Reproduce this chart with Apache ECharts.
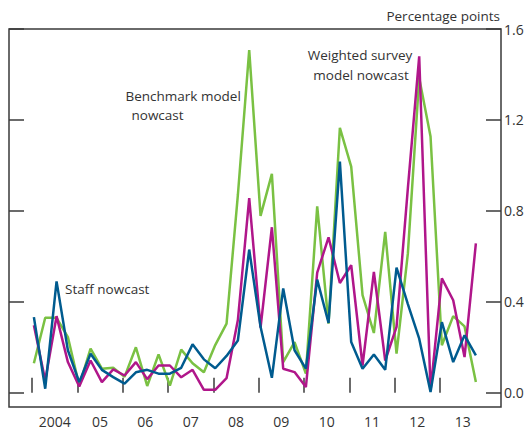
<!DOCTYPE html>
<html><head><meta charset="utf-8">
<script src="https://cdn.jsdelivr.net/npm/echarts@6/dist/echarts.min.js"></script>
<style>html,body{margin:0;padding:0;background:#fff}#c{width:532px;height:432px}</style>
</head><body><div id="c"></div>
<script>
const quarters = [
  '2004 Q1','2004 Q2','2004 Q3','2004 Q4','2005 Q1','2005 Q2','2005 Q3','2005 Q4',
  '2006 Q1','2006 Q2','2006 Q3','2006 Q4','2007 Q1','2007 Q2','2007 Q3','2007 Q4',
  '2008 Q1','2008 Q2','2008 Q3','2008 Q4','2009 Q1','2009 Q2','2009 Q3','2009 Q4',
  '2010 Q1','2010 Q2','2010 Q3','2010 Q4','2011 Q1','2011 Q2','2011 Q3','2011 Q4',
  '2012 Q1','2012 Q2','2012 Q3','2012 Q4','2013 Q1','2013 Q2','2013 Q3','2013 Q4'
];
const benchmark = [
  0.13,0.33,0.33,0.245,0.032,0.194,0.106,0.11,0.07,0.2,0.03,0.169,0.032,0.19,0.13,0.09,
  0.21,0.304,0.87,1.507,0.778,0.963,0.135,0.223,0.084,0.82,0.304,1.165,0.995,0.43,0.263,0.708,
  0.172,0.613,1.385,1.127,0.209,0.337,0.292,0.047
];
const weighted = [
  0.297,0.054,0.337,0.135,0.028,0.142,0.047,0.103,0.076,0.135,0.06,0.12,0.12,0.068,0.101,0.013,
  0.013,0.064,0.32,0.856,0.287,0.728,0.106,0.091,0.025,0.528,0.684,0.483,0.561,0.12,0.532,0.142,
  0.29,0.9,1.48,0.01,0.503,0.407,0.157,0.657
];
const staff = [
  0.333,0.018,0.49,0.187,0.047,0.172,0.101,0.069,0.04,0.09,0.101,0.084,0.084,0.11,0.213,0.147,
  0.108,0.162,0.23,0.63,0.29,0.066,0.459,0.187,0.106,0.498,0.307,1.017,0.223,0.106,0.168,0.101,
  0.55,0.39,0.238,0.003,0.311,0.135,0.253,0.165
];
const yearTicks = [2004,2005,2006,2007,2008,2009,2010,2011,2012,2013];
const yearLabels = ['2004','05','06','07','08','09','10','11','12','13'];
const yTicks = [0,0.4,0.8,1.2,1.6];

function qx(s){ const y=+s.slice(0,4), q=+s.slice(6); return y+(q-1)*0.25+1/24; }
function pairs(vals){ return quarters.map((q,i)=>[qx(q), vals[i]]); }

const FONT = '"Open Sans", "Noto Sans", sans-serif';
const TXT = '#333333';
const AX = '#3a3a3a';

const chart = echarts.init(document.getElementById('c'), null, {renderer:'svg'});
const yBase = {
  type:'value', min:-0.0625, max:1.6,
  splitLine:{show:false}, axisLine:{show:false},
  axisTick:{show:true, inside:true, length:15, customValues:yTicks, lineStyle:{color:AX, width:1.5}}
};
chart.setOption({
  animation:false,
  grid:{left:9, right:31, top:29, bottom:25, show:true, borderColor:AX, borderWidth:1.5, backgroundColor:'transparent'},
  xAxis:{
    type:'value', min:2003.4926, max:2014.346,
    splitLine:{show:false}, axisLine:{show:false},
    axisTick:{show:true, inside:true, length:15, customValues:yearTicks, lineStyle:{color:AX, width:1.5}},
    axisLabel:{customValues:yearTicks.map(v=>v+0.5), margin:7, color:TXT, fontSize:14, fontFamily:FONT,
      formatter:v=>yearLabels[Math.floor(v)-2004]}
  },
  yAxis:[
    Object.assign({}, yBase, {position:'left', axisLabel:{show:false}}),
    Object.assign({}, yBase, {position:'right', axisLabel:{customValues:yTicks, margin:3, color:TXT, fontSize:14, fontFamily:FONT, formatter:v=>v.toFixed(1)}})
  ],
  series:[
    {name:'Benchmark model nowcast', type:'line', yAxisIndex:1, data:pairs(benchmark), showSymbol:false, lineStyle:{color:'#7ac143', width:2.5}, z:2},
    {name:'Weighted survey model nowcast', type:'line', yAxisIndex:1, data:pairs(weighted), showSymbol:false, lineStyle:{color:'#b0168a', width:2.5}, z:3},
    {name:'Staff nowcast', type:'line', yAxisIndex:1, data:pairs(staff), showSymbol:false, lineStyle:{color:'#005b8f', width:2.5}, z:4}
  ],
  graphic:[
    {type:'text', style:{text:'Percentage points', x:500, y:16, textAlign:'right', textVerticalAlign:'middle', fill:TXT, font:'13.5px '+FONT}},
    {type:'text', style:{text:'Benchmark model', x:125.5, y:96, textAlign:'left', textVerticalAlign:'middle', fill:TXT, font:'13.5px '+FONT}},
    {type:'text', style:{text:'nowcast', x:131.5, y:115, textAlign:'left', textVerticalAlign:'middle', fill:TXT, font:'13.5px '+FONT}},
    {type:'text', style:{text:'Weighted survey', x:360, y:55, textAlign:'center', textVerticalAlign:'middle', fill:TXT, font:'13.5px '+FONT}},
    {type:'text', style:{text:'model nowcast', x:361, y:75, textAlign:'center', textVerticalAlign:'middle', fill:TXT, font:'13.5px '+FONT}},
    {type:'text', style:{text:'Staff nowcast', x:65, y:288.5, textAlign:'left', textVerticalAlign:'middle', fill:TXT, font:'13.5px '+FONT}}
  ]
});
</script></body></html>
